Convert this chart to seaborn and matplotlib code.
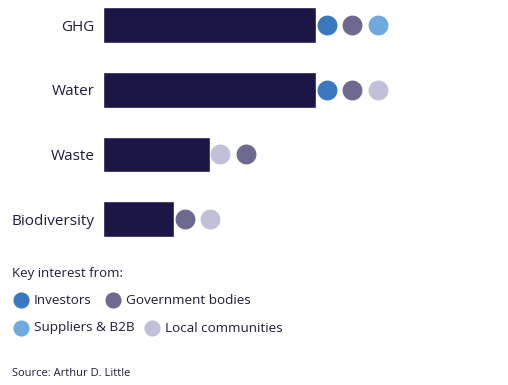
import matplotlib
matplotlib.use("Agg")
import matplotlib.pyplot as plt
import seaborn as sns
import pandas as pd

# chart data
topics = ["GHG", "Water", "Waste", "Biodiversity"]
scores = [6, 6, 3, 2]
interest = [
    ["Investors", "Government bodies", "Suppliers & B2B"],
    ["Investors", "Government bodies", "Local communities"],
    ["Local communities", "Government bodies"],
    ["Government bodies", "Local communities"],
]
stakeholders = ["Investors", "Government bodies", "Suppliers & B2B", "Local communities"]
stakeholder_colors = ["#3a78bf", "#6e6a8f", "#6faadf", "#c0c0d8"]

bar_color = "#1b1646"
text_color = "#1e1d3a"

sns.set_theme(style="white")
plt.rcParams["font.family"] = ["Open Sans", "DejaVu Sans"]

df = pd.DataFrame({"topic": topics, "score": scores})
color_of = dict(zip(stakeholders, stakeholder_colors))

W, H = 508, 385
fig = plt.figure(figsize=(W / 100, H / 100), dpi=100)
ax = fig.add_axes([103 / W, 1 - 245 / H, 390 / W, 245 / H])

sns.barplot(data=df, x="score", y="topic", orient="h", color=bar_color,
            width=0.55, saturation=1, ax=ax)

# dots after each bar
for i, (val, who) in enumerate(zip(scores, interest)):
    for j, name in enumerate(who):
        ax.scatter(val + 0.3 + j * 0.72, i, s=205, color=color_of[name],
                   linewidths=0, zorder=3, clip_on=False)

ax.set_xlim(0, 390 / 35.5)
ax.set_ylim(3.4, -0.39)
ax.set_xlabel("")
ax.set_ylabel("")
ax.set_xticks([])
ax.tick_params(axis="y", length=0, pad=6, labelsize=11, labelcolor=text_color)
sns.despine(ax=ax, left=True, bottom=True)

# legend drawn in pixel coordinates
lg = fig.add_axes([0, 0, 1, 1], facecolor="none")
lg.set_xlim(0, W)
lg.set_ylim(H, 0)
lg.axis("off")

lg.text(12, 273, "Key interest from:", fontsize=9.5, color=text_color, va="center")
legend_items = [
    (21, 300, "Investors"),
    (113, 300, "Government bodies"),
    (21, 328, "Suppliers & B2B"),
    (152, 328, "Local communities"),
]
for x, y, name in legend_items:
    lg.scatter(x, y, s=135, color=color_of[name], linewidths=0)
    lg.text(x + 13, y, name, fontsize=9.7, color=text_color, va="center")

lg.text(12, 373, "Source: Arthur D. Little", fontsize=8, color=text_color, va="center")

fig.savefig("out.png", dpi=100, facecolor="white")
